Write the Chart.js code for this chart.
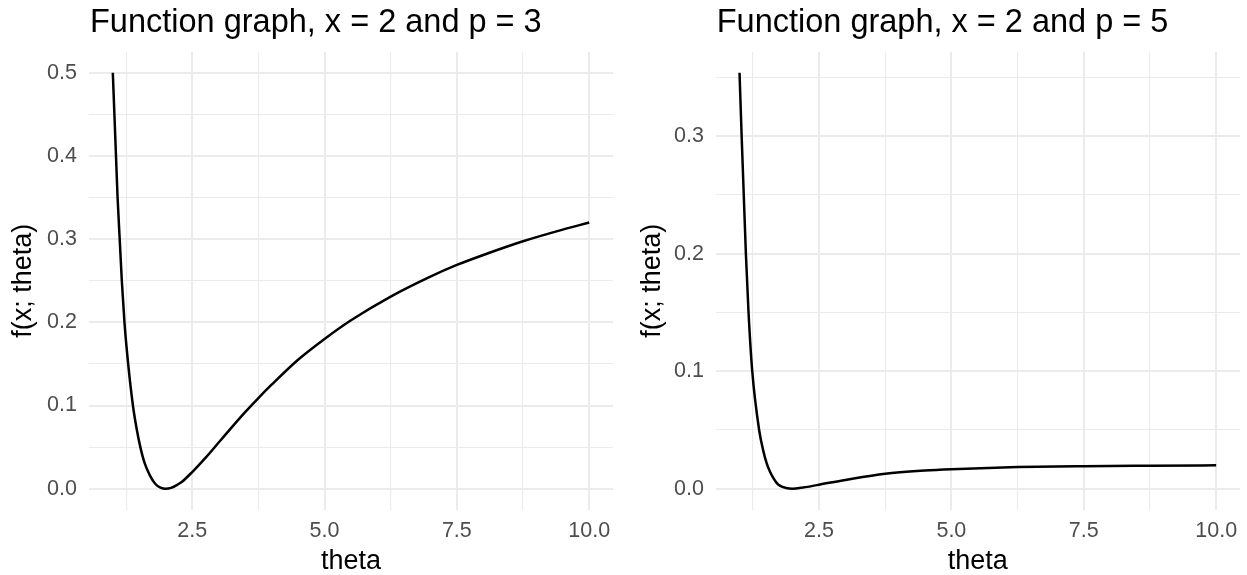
<!DOCTYPE html>
<html>
<head>
<meta charset="utf-8">
<script src="https://cdn.jsdelivr.net/npm/chart.js@4/dist/chart.umd.min.js"></script>
<style>
    html, body { margin: 0; padding: 0; background: #fff; }
    #figure { position: relative; width: 1247px; height: 575px; }
    #figure canvas { position: absolute; top: 0; }
    #panelP3 { left: 0; }
    #panelP5 { left: 623px; }
</style>
</head>
<body>
<div id="figure">
    <canvas id="panelP3" width="623" height="575"></canvas>
    <canvas id="panelP5" width="624" height="575"></canvas>
</div>
<script>
// f(x; theta) for x = 2, p = 3
var thetaP3 = [1.00, 1.03, 1.06, 1.09, 1.13, 1.17, 1.22, 1.29, 1.38, 1.45, 1.52, 1.60, 1.70, 1.80, 1.90, 2.00,
               2.10, 2.20, 2.30, 2.50, 2.75, 3.00, 3.25, 3.50, 3.75, 4.00, 4.50, 5.00, 5.50, 6.25, 7.00,
               7.50, 8.00, 8.75, 9.50, 10.00];
var valueP3 = [0.500, 0.450, 0.400, 0.350, 0.300, 0.250, 0.200, 0.150, 0.100, 0.072, 0.050, 0.031, 0.016, 0.006, 0.0014, 0.000,
               0.001, 0.004, 0.008, 0.020, 0.037, 0.0555, 0.074, 0.092, 0.109, 0.125, 0.155, 0.180, 0.2025, 0.231, 0.255,
               0.269, 0.281, 0.2975, 0.3115, 0.320];

// f(x; theta) for x = 2, p = 5
var thetaP5 = [1.00, 1.04, 1.08, 1.12, 1.17, 1.24, 1.37, 1.45, 1.51, 1.58, 1.64, 1.70, 1.76, 1.88, 2.00,
               2.20, 2.50, 3.00, 3.75, 4.50, 5.00, 6.25, 7.50, 8.75, 10.00];
var valueP5 = [0.354, 0.300, 0.250, 0.200, 0.150, 0.100, 0.050, 0.032, 0.022, 0.014, 0.009, 0.005, 0.0026, 0.0006, 0.000,
               0.001, 0.0034, 0.0075, 0.0128, 0.0155, 0.0166, 0.0184, 0.0192, 0.0196, 0.0199];

var xMajor = [2.5, 5.0, 7.5, 10.0];
var xMinor = [1.25, 3.75, 6.25, 8.75];
var xLabels = ['2.5', '5.0', '7.5', '10.0'];

var yMajorP3 = [0.0, 0.1, 0.2, 0.3, 0.4, 0.5];
var yMinorP3 = [0.05, 0.15, 0.25, 0.35, 0.45];
var yLabelsP3 = ['0.0', '0.1', '0.2', '0.3', '0.4', '0.5'];

var yMajorP5 = [0.0, 0.1, 0.2, 0.3];
var yMinorP5 = [0.05, 0.15, 0.25, 0.35];
var yLabelsP5 = ['0.0', '0.1', '0.2', '0.3'];

var FONT = '"Liberation Sans", Arial, Helvetica, sans-serif';
var GRID = '#EBEBEB';

// title drawn flush with the panel's left edge
var panelTitle = {
    id: 'panelTitle',
    afterDraw: function(chart, args, opts) {
        let ctx = chart.ctx;
        ctx.save();
        ctx.font = opts.size + 'px ' + FONT;
        ctx.fillStyle = '#000';
        ctx.textBaseline = 'alphabetic';
        ctx.textAlign = 'left';
        ctx.fillText(opts.text, chart.chartArea.left + 1, opts.baseline);
        ctx.restore();
    }
};

function mergeTicks(major, minor) {
    return major.concat(minor).sort((a, b) => a - b).map(v => ({value: v}));
}

function makePanel(id, title, thetas, values, yMajor, yMinor, yLabels, box) {
    let xs = thetas;
    let yMax = Math.max.apply(null, values);
    let xPad = (xs[xs.length - 1] - xs[0]) * 0.05;
    let yPad = yMax * 0.05;

    let ctx = document.getElementById(id).getContext('2d');

    return new Chart(ctx, {
        type: 'line',
        data: {
            datasets: [{
                data: thetas.map((t, i) => ({x: t, y: values[i]})),
                borderColor: '#000',
                borderWidth: 2.5,
                pointRadius: 0,
                fill: false,
                cubicInterpolationMode: 'monotone'
            }]
        },
        options: {
            responsive: false,
            animation: false,
            devicePixelRatio: 1,
            layout: {
                padding: {top: 52, right: box.right, bottom: 0, left: 0}
            },
            plugins: {
                legend: {display: false},
                tooltip: {enabled: false},
                panelTitle: {text: title, size: 32.5, baseline: 32}
            },
            scales: {
                x: {
                    type: 'linear',
                    min: xs[0] - xPad,
                    max: xs[xs.length - 1] + xPad,
                    afterBuildTicks: function(scale) {
                        scale.ticks = mergeTicks(xMajor, xMinor);
                    },
                    afterFit: function(scale) {
                        scale.height = 65.5;
                    },
                    border: {display: false},
                    grid: {
                        color: GRID,
                        drawTicks: false,
                        lineWidth: c => xMajor.includes(c.tick.value) ? 2 : 1.1
                    },
                    ticks: {
                        autoSkip: false,
                        maxRotation: 0,
                        padding: 9,
                        color: '#4D4D4D',
                        font: {family: FONT, size: 21.5},
                        callback: function(value) {
                            let i = xMajor.indexOf(value);
                            return i >= 0 ? xLabels[i] : '';
                        }
                    },
                    title: {
                        display: true,
                        text: 'theta',
                        color: '#000',
                        font: {family: FONT, size: 27, lineHeight: 1},
                        padding: {top: 0, bottom: 0}
                    }
                },
                y: {
                    type: 'linear',
                    min: -yPad,
                    max: yMax + yPad,
                    afterBuildTicks: function(scale) {
                        scale.ticks = mergeTicks(yMajor, yMinor);
                    },
                    afterFit: function(scale) {
                        scale.width = box.axisWidth;
                    },
                    border: {display: false},
                    grid: {
                        color: GRID,
                        drawTicks: false,
                        lineWidth: c => yMajor.includes(c.tick.value) ? 2 : 1.1
                    },
                    ticks: {
                        autoSkip: false,
                        padding: box.labelGap,
                        color: '#4D4D4D',
                        font: {family: FONT, size: 21.5},
                        callback: function(value) {
                            let i = yMajor.indexOf(value);
                            return i >= 0 ? yLabels[i] : '';
                        }
                    },
                    title: {
                        display: true,
                        text: 'f(x; theta)',
                        color: '#000',
                        font: {family: FONT, size: 27, lineHeight: 1},
                        padding: {top: box.titleGap, bottom: 0}
                    }
                }
            }
        },
        plugins: [panelTitle]
    });
}

makePanel('panelP3', 'Function graph, x = 2 and p = 3', thetaP3, valueP3,
          yMajorP3, yMinorP3, yLabelsP3, {axisWidth: 89, right: 10, labelGap: 12, titleGap: 10});
makePanel('panelP5', 'Function graph, x = 2 and p = 5', thetaP5, valueP5,
          yMajorP5, yMinorP5, yLabelsP5, {axisWidth: 92.7, right: 7, labelGap: 11.7, titleGap: 16});
</script>
</body>
</html>
